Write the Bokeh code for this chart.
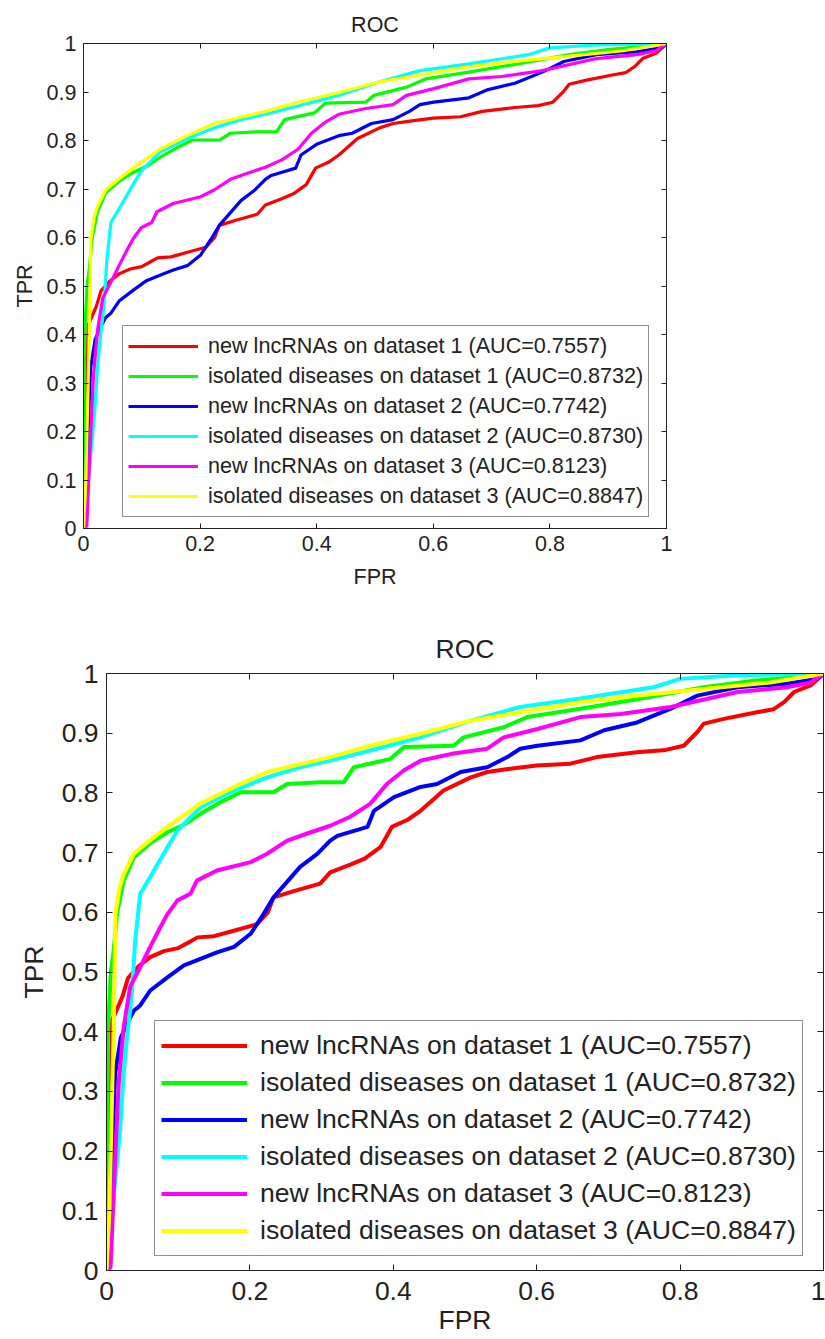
from bokeh.plotting import figure
from bokeh.models import Legend, LegendItem, LinearAxis, FixedTicker
from bokeh.embed import file_html
from bokeh.resources import INLINE

# ---------------- data ----------------
red_fpr = [0, 0.004, 0.008, 0.013, 0.022, 0.03, 0.045, 0.061, 0.08, 0.10, 0.115, 0.127, 0.15, 0.18, 0.21, 0.225, 0.233, 0.26, 0.298, 0.312, 0.34, 0.36, 0.382, 0.398, 0.42, 0.438, 0.47, 0.508, 0.531, 0.56, 0.60, 0.647, 0.684, 0.74, 0.78, 0.805, 0.824, 0.833, 0.861, 0.907, 0.93, 0.945, 0.959, 0.982, 0.998, 1.0]
red_tpr = [0, 0.2, 0.42, 0.433, 0.458, 0.49, 0.51, 0.525, 0.535, 0.54, 0.55, 0.558, 0.56, 0.57, 0.58, 0.6, 0.625, 0.635, 0.648, 0.667, 0.68, 0.69, 0.709, 0.743, 0.755, 0.770, 0.804, 0.826, 0.835, 0.84, 0.846, 0.849, 0.86, 0.868, 0.872, 0.879, 0.902, 0.916, 0.924, 0.935, 0.94, 0.952, 0.969, 0.98, 0.997, 1.0]

green_fpr = [0, 0.002, 0.006, 0.010, 0.015, 0.024, 0.038, 0.06, 0.085, 0.11, 0.131, 0.16, 0.187, 0.233, 0.252, 0.298, 0.331, 0.345, 0.396, 0.415, 0.484, 0.498, 0.554, 0.587, 0.661, 0.74, 0.833, 0.903, 0.963, 1.0]
green_tpr = [0, 0.4, 0.5, 0.536, 0.6, 0.653, 0.692, 0.715, 0.734, 0.748, 0.765, 0.785, 0.801, 0.801, 0.815, 0.818, 0.818, 0.843, 0.857, 0.877, 0.879, 0.893, 0.910, 0.927, 0.941, 0.957, 0.977, 0.988, 0.994, 1.0]

blue_fpr = [0, 0.005, 0.008, 0.012, 0.02, 0.031, 0.038, 0.047, 0.061, 0.085, 0.108, 0.131, 0.154, 0.178, 0.201, 0.219, 0.233, 0.27, 0.294, 0.312, 0.322, 0.364, 0.373, 0.401, 0.438, 0.461, 0.494, 0.531, 0.559, 0.577, 0.601, 0.661, 0.694, 0.74, 0.787, 0.824, 0.88, 0.949, 0.991, 1.0]
blue_tpr = [0, 0.01, 0.2, 0.33, 0.39, 0.419, 0.435, 0.444, 0.469, 0.491, 0.511, 0.522, 0.533, 0.542, 0.564, 0.597, 0.625, 0.676, 0.698, 0.72, 0.728, 0.743, 0.770, 0.793, 0.810, 0.815, 0.835, 0.843, 0.860, 0.874, 0.879, 0.888, 0.905, 0.918, 0.941, 0.963, 0.977, 0.983, 0.991, 1.0]

cyan_fpr = [0, 0.005, 0.012, 0.015, 0.0195, 0.024, 0.029, 0.033, 0.036, 0.04, 0.047, 0.061, 0.085, 0.099, 0.131, 0.178, 0.224, 0.27, 0.312, 0.368, 0.438, 0.508, 0.577, 0.661, 0.763, 0.80, 0.88, 1.0]
cyan_tpr = [0, 0.05, 0.15, 0.184, 0.246, 0.33, 0.396, 0.435, 0.475, 0.553, 0.631, 0.659, 0.709, 0.737, 0.776, 0.804, 0.826, 0.843, 0.854, 0.871, 0.893, 0.921, 0.944, 0.958, 0.977, 0.991, 0.997, 1.0]

magenta_fpr = [0, 0.0056, 0.0126, 0.017, 0.024, 0.033, 0.047, 0.061, 0.075, 0.085, 0.099, 0.117, 0.126, 0.154, 0.201, 0.224, 0.252, 0.28, 0.312, 0.34, 0.368, 0.391, 0.415, 0.438, 0.484, 0.531, 0.554, 0.601, 0.661, 0.717, 0.787, 0.88, 0.949, 0.982, 1.0]
magenta_tpr = [0, 0.005, 0.201, 0.313, 0.408, 0.475, 0.508, 0.542, 0.575, 0.597, 0.62, 0.631, 0.653, 0.67, 0.684, 0.698, 0.72, 0.732, 0.745, 0.76, 0.782, 0.815, 0.838, 0.854, 0.866, 0.874, 0.893, 0.907, 0.927, 0.932, 0.944, 0.969, 0.977, 0.985, 1.0]

yellow_fpr = [0, 0.004, 0.007, 0.010, 0.0126, 0.018, 0.024, 0.038, 0.06, 0.085, 0.131, 0.178, 0.224, 0.312, 0.368, 0.438, 0.508, 0.577, 0.661, 0.74, 0.833, 0.926, 1.0]
yellow_tpr = [0, 0.1, 0.25, 0.41, 0.597, 0.64, 0.664, 0.698, 0.72, 0.743, 0.782, 0.810, 0.835, 0.860, 0.879, 0.899, 0.921, 0.935, 0.952, 0.963, 0.974, 0.985, 1.0]

series_labels = [
    "new lncRNAs on dataset 1 (AUC=0.7557)",
    "isolated diseases on dataset 1 (AUC=0.8732)",
    "new lncRNAs on dataset 2 (AUC=0.7742)",
    "isolated diseases on dataset 2 (AUC=0.8730)",
    "new lncRNAs on dataset 3 (AUC=0.8123)",
    "isolated diseases on dataset 3 (AUC=0.8847)",
]
series_colors = ["#FF0000", "#00FF00", "#0000FF", "#00FFFF", "#FF00FF", "#FFFF00"]
series_x = [red_fpr, green_fpr, blue_fpr, cyan_fpr, magenta_fpr, yellow_fpr]
series_y = [red_tpr, green_tpr, blue_tpr, cyan_tpr, magenta_tpr, yellow_tpr]

tick_values = [0, 0.1, 0.2, 0.3, 0.4, 0.5, 0.6, 0.7, 0.8, 0.9, 1]
x_tick_values = [0, 0.2, 0.4, 0.6, 0.8, 1]
title_text = "ROC"
x_label = "FPR"
y_label = "TPR"

FONT = "Liberation Sans"


def make_chart(fw, fh, bl, bt, br, bb, fs, lw, tick_len, st, leg):
    p = figure(frame_width=fw, frame_height=fh, min_border_left=bl, min_border_top=bt,
               min_border_right=br, min_border_bottom=bb,
               x_range=(0, 1), y_range=(0, 1), output_backend="svg",
               toolbar_location=None, title=title_text)
    p.title.align = "center"
    p.title.text_font = FONT
    p.title.text_font_size = f"{fs}px"
    p.title.text_font_style = "normal"
    p.title.text_color = "#222222"
    p.title.standoff = st["title"]
    p.xgrid.visible = False
    p.ygrid.visible = False
    p.outline_line_color = "#222222"
    p.outline_line_width = 1
    p.background_fill_color = "white"
    p.border_fill_color = "white"

    overrides = {0: "0", 1: "1"}
    for ax, ticks, lab in ((p.xaxis[0], x_tick_values, x_label), (p.yaxis[0], tick_values, y_label)):
        ax.ticker = FixedTicker(ticks=ticks)
        ax.major_label_overrides = overrides
        ax.axis_label = lab
        ax.axis_label_text_font = FONT
        ax.axis_label_text_font_size = f"{fs}px"
        ax.axis_label_text_font_style = "normal"
        ax.axis_label_text_color = "#222222"
        ax.axis_label_text_line_height = 1.0
        ax.major_label_text_font = FONT
        ax.major_label_text_font_size = f"{fs}px"
        ax.major_label_text_color = "#222222"
        ax.major_label_text_line_height = 1.0
        ax.major_tick_in = tick_len
        ax.major_tick_out = 0
        ax.minor_tick_line_color = None
        ax.axis_line_color = "#222222"
        ax.major_tick_line_color = "#222222"
    p.xaxis[0].major_label_standoff = st["xtick"]
    p.yaxis[0].major_label_standoff = st["ytick"]
    p.xaxis[0].axis_label_standoff = st["xlab"]
    p.yaxis[0].axis_label_standoff = st["ylab"]

    for place, ticks in (("above", x_tick_values), ("right", tick_values)):
        a = LinearAxis(ticker=FixedTicker(ticks=ticks), major_label_text_font_size="0px",
                       major_label_text_alpha=0, major_label_standoff=0,
                       major_tick_in=tick_len, major_tick_out=0, minor_tick_line_color=None,
                       axis_line_color="#222222", major_tick_line_color="#222222")
        p.add_layout(a, place)

    items = []
    for xs, ys, c, lab in zip(series_x, series_y, series_colors, series_labels):
        r = p.line(xs, ys, line_color=c, line_width=lw)
        items.append(LegendItem(label=lab, renderers=[r]))

    legend = Legend(items=items, location=leg["loc"], orientation="vertical",
                    label_text_font=FONT, label_text_font_size=f"{leg['fs']}px",
                    label_text_color="#222222",
                    label_height=leg["h"], glyph_height=leg["h"], glyph_width=leg["gw"],
                    label_standoff=leg["standoff"], padding=leg["pad"], spacing=0,
                    margin=0, border_line_color="#222222", border_line_width=1,
                    background_fill_color="white", background_fill_alpha=1)
    p.add_layout(legend)
    return p


top = make_chart(583, 485, 83, 43, 159, 80, 21.5, 3.2, 5,
                 {"title": 14, "xtick": 7, "ytick": 7, "xlab": 11, "ylab": 7},
                 {"loc": (39, 11), "h": 30, "gw": 70, "standoff": 10, "pad": 5, "fs": 21.6})
bottom = make_chart(717, 597, 106, 65, 2, 66, 26.5, 4, 6,
                    {"title": 20, "xtick": 11, "ytick": 8, "xlab": 2, "ylab": 10},
                    {"loc": (48, 14), "h": 37, "gw": 86, "standoff": 13, "pad": 6, "fs": 26.6})

open("out.html", "w").write(file_html([top, bottom], INLINE))
